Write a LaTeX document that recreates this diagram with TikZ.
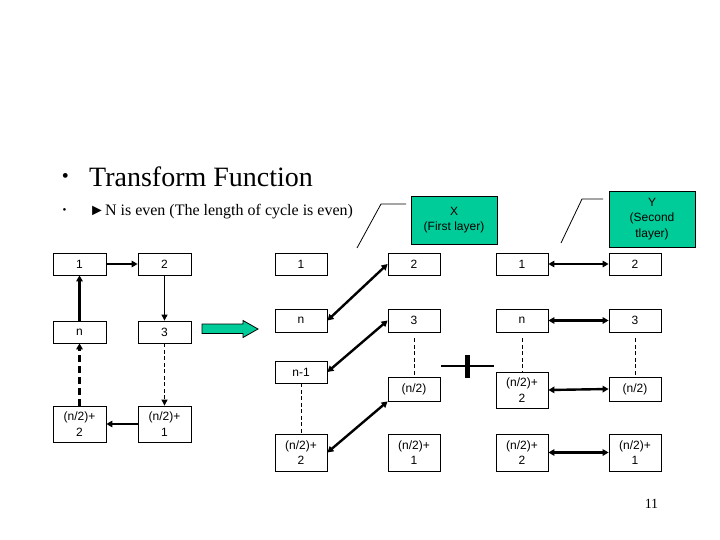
\documentclass[tikz,border=0pt]{standalone}
\usepackage{fontspec}
\setmainfont{Liberation Serif}
\newfontfamily\arialf{Liberation Sans}
\usetikzlibrary{arrows.meta}
\definecolor{tealg}{RGB}{0,204,153}
\begin{document}
\begin{tikzpicture}[x=1pt,y=-1pt,
  box/.style={draw, line width=0.8pt, inner sep=0pt, minimum width=52pt, minimum height=22pt,
    font=\arialf\fontsize{12}{15.5}\selectfont, align=center},
  tall/.style={minimum height=36pt},
  greenbox/.style={box, fill=tealg, minimum width=86pt},
  thk/.style={line width=2.4pt},
  thn/.style={line width=0.9pt},
  onetip/.style={-{Triangle[length=6pt,width=6.5pt]}},
  twotip/.style={{Triangle[length=6pt,width=6.5pt]}-{Triangle[length=6pt,width=6.5pt]}},
  thintip/.style={-{Triangle[length=6pt,width=6pt]}},
  thindash/.style={thn, dash pattern=on 4pt off 2.5pt},
  thickdash/.style={thk, dash pattern=on 7pt off 4pt}
]
\useasboundingbox (0,0) rectangle (720,540);

% titles
\node[font=\fontsize{20}{24}\selectfont, inner sep=0pt] (b1) at (65.5,178) {•};
\node[font=\fontsize{28}{32}\selectfont, anchor=base west, inner sep=0pt] (t1) at (89,187) {Transform Function};
\node[font=\fontsize{11}{13}\selectfont, inner sep=0pt] (b2) at (64.5,211) {•};
\node[font=\fontsize{16}{19}\selectfont, anchor=base west, inner sep=0pt] (t2) at (89,215) {►N is even (The length of cycle is even)};

% left cycle
\node[box, minimum width=53pt] (L1) at (79.5,264) {1};
\node[box, minimum width=53pt] (L2) at (164.5,264) {2};
\node[box, minimum width=53pt] (Ln) at (79.5,332) {n};
\node[box, minimum width=53pt] (L3) at (164.5,332) {3};
\node[box, tall, minimum width=53pt] (Lh2) at (79.5,424) {(n/2)+\\2};
\node[box, tall, minimum width=53pt] (Lh1) at (164.5,424) {(n/2)+\\1};

\draw[thk, onetip] (L1) -- (L2);
\draw[thn, thintip] (L2) -- (L3);
\draw[thindash, thintip] (L3) -- (Lh1);
\draw[thk, onetip] (Lh1) -- (Lh2);
\draw[thickdash, onetip] (Lh2) -- (Ln);
\draw[thk, onetip] (Ln) -- (L1);

% green arrow
\draw[fill=tealg, line width=0.8pt] (202,324) -- (243,324) -- (243,320.5) -- (258,329) -- (243,337.5) -- (243,333.5) -- (202,333.5) -- cycle;

% middle (X layer)
\node[box] (M1) at (301,264) {1};
\node[box] (M2) at (414,264) {2};
\node[box, minimum height=23pt] (Mn) at (301,320.5) {n};
\node[box, minimum height=23pt] (M3) at (414,320.5) {3};
\node[box] (Mn1) at (301,372) {n-1};
\node[box, minimum height=24pt] (Mh) at (414,389) {(n/2)};
\node[box, minimum height=37pt] (Mh2) at (301,452.5) {(n/2)+\\2};
\node[box, minimum height=37pt] (Mh1) at (414,452.5) {(n/2)+\\1};

\draw[thk, twotip] (Mn.east) -- (M2.west);
\draw[thk, twotip] (Mn1.east) -- (M3.west);
\draw[thk, twotip] (Mh2.east) -- (Mh.south west);
\draw[thindash] ([yshift=-6pt]M3.south) -- (Mh.north);
\draw[thindash] (Mn1.south) -- (Mh2.north);

% cross mark
\coordinate (cxl) at (441,366);
\coordinate (cxr) at (494,366);
\coordinate (cxt) at (467,355);
\coordinate (cxb) at (467,378);
\draw[line width=2.6pt] (cxl) -- (cxr);
\draw[line width=5pt] (cxt) -- (cxb);

% right (Y layer)
\node[box] (R1) at (522,264) {1};
\node[box] (R2) at (635,264) {2};
\node[box, minimum height=23pt] (Rn) at (522,320.5) {n};
\node[box, minimum height=23pt] (R3) at (635,320.5) {3};
\node[box, tall] (Ra) at (522,390) {(n/2)+\\2};
\node[box, minimum height=24pt] (Rh) at (635,389) {(n/2)};
\node[box, minimum height=37pt] (Rh2) at (522,452.5) {(n/2)+\\2};
\node[box, minimum height=37pt] (Rh1) at (635,452.5) {(n/2)+\\1};

\draw[thk, twotip] (R1) -- (R2);
\draw[thk, twotip] (Rn) -- (R3);
\draw[thk, twotip] (Ra.east) -- (Rh.west);
\draw[thk, twotip] (Rh2) -- (Rh1);
\draw[thindash] ([yshift=-6pt]Rn.south) -- (Ra.north);
\draw[thindash] ([yshift=-6pt]R3.south) -- (Rh.north);

% callouts
\node[greenbox, minimum height=48pt] (X) at (454,220) {X\\(First layer)};
\node[greenbox, minimum height=56pt] (Y) at (652,219) {Y\\(Second\\tlayer)};
\coordinate (xa) at (406,204);
\coordinate (xb) at (381,204);
\coordinate (xc) at (357,248);
\draw[line width=0.8pt] (xa) -- (xb) -- (xc);
\coordinate (ya) at (603,199);
\coordinate (yb) at (582,199);
\coordinate (yc) at (561,243);
\draw[line width=0.8pt] (ya) -- (yb) -- (yc);

% page number
\node[font=\fontsize{14}{16}\selectfont, inner sep=0pt] (pg) at (651.5,504) {11};
\end{tikzpicture}
\end{document}
